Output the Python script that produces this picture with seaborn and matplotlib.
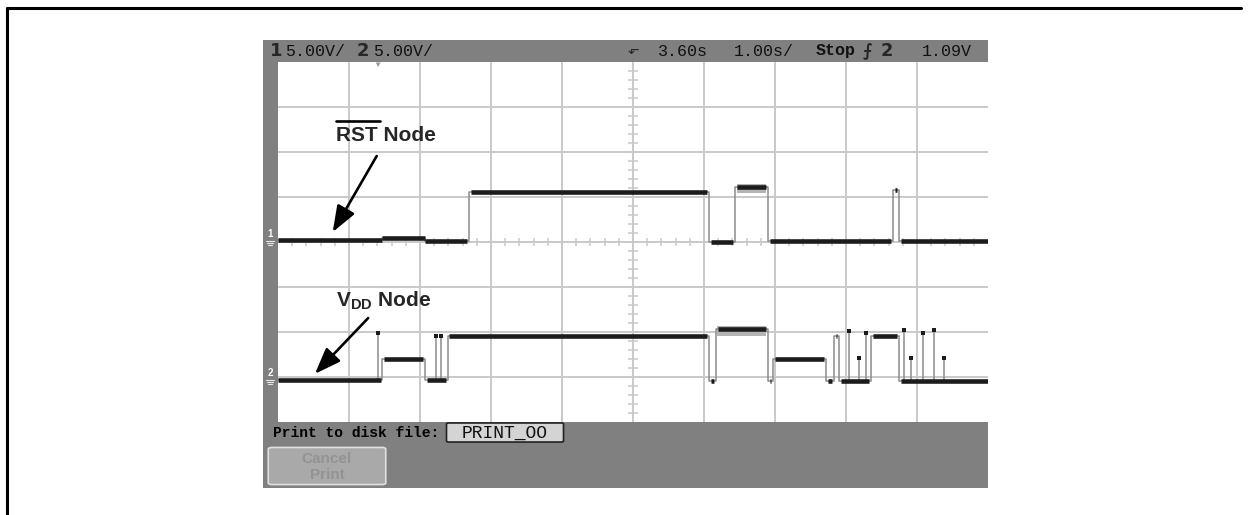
import numpy as np
import matplotlib
matplotlib.use("Agg")
import matplotlib.pyplot as plt
import seaborn as sns
from matplotlib.patches import Rectangle, FancyBboxPatch
from matplotlib.lines import Line2D

sns.set_style("white")
plt.rcParams['font.family'] = ['Liberation Sans', 'DejaVu Sans']
plt.rcParams['mathtext.fontset'] = 'custom'
plt.rcParams['mathtext.bf'] = 'Liberation Sans:bold'
plt.rcParams['mathtext.rm'] = 'Liberation Sans'

# ---- data (time in divisions of 1.00 s, level in screen divisions) ----
rst_edges = [0.0, 1.47, 2.07, 2.69, 6.07, 6.44, 6.90, 8.66, 8.75, 10.0]
rst_levels = [4.04, 4.08, 4.03, 5.11, 4.00, 5.22, 4.03, 5.15, 4.02]

vdd_edges = [0.0, 1.47, 2.07, 2.39, 6.07, 6.17, 6.90, 6.97, 7.72, 7.83, 7.90, 8.35, 8.75, 10.0]
vdd_levels = [0.93, 1.40, 0.93, 1.91, 0.92, 2.06, 0.92, 1.40, 0.92, 1.91, 0.92, 1.91, 0.92]

vdd_spike_t = [1.41, 2.22, 2.30, 8.04, 8.18, 8.28, 8.82, 8.92, 9.08, 9.24, 9.38]
vdd_spike_top = [1.98, 1.91, 1.91, 2.02, 1.42, 1.98, 2.04, 1.42, 1.98, 2.04, 1.42]

noisy_t = [(6.44, 6.90), (6.17, 6.90)]
noisy_level = [5.22, 2.06]

W, H = 1249, 515
def fx(px):
    return px / W
def fy(py):
    return 1 - py / H

fig = plt.figure(figsize=(W / 100, H / 100), dpi=100)
fig.patch.set_facecolor('white')

# outer frame
fig.add_artist(Line2D([fx(7), fx(7)], [fy(8), fy(515)], color='black', lw=2.2))
fig.add_artist(Line2D([fx(7), fx(1241)], [fy(8), fy(8)], color='black', lw=2.2))

# scope screen
fig.add_artist(Rectangle((fx(263), fy(488)), (988 - 263) / W, (488 - 40) / H,
                         transform=fig.transFigure, facecolor='#808080', edgecolor='none', zorder=0))

ax = fig.add_axes([fx(278), fy(422), 710 / W, 360 / H])
ax.set_xlim(0, 10)
ax.set_ylim(0, 8)
ax.set_facecolor('white')
for s in ax.spines.values():
    s.set_visible(False)
ax.set_xticks([])
ax.set_yticks([])

grid_c = '#c9c9c9'
ax.vlines(np.arange(1, 10), 0, 8, color=grid_c, lw=1.4, zorder=1)
ax.hlines(np.arange(1, 8), 0, 10, color=grid_c, lw=1.4, zorder=1)
xs = np.arange(0.2, 10, 0.2)
ax.vlines(xs, 4 - 0.09, 4 + 0.09, color=grid_c, lw=1.1, zorder=1)
ys = np.arange(0.2, 8, 0.2)
ax.hlines(ys, 5 - 0.07, 5 + 0.07, color=grid_c, lw=1.1, zorder=1)

# noisy bands
for (a, b), lv in zip(noisy_t, noisy_level):
    ax.fill_between([a + 0.02, b - 0.02], lv - 0.14, lv + 0.08, color='#b4b4b4', lw=0, zorder=2)

def trace(edges, levels, color_thin='#8c8c8c'):
    e = np.array(edges, dtype=float)
    l = np.array(levels, dtype=float)
    sns.lineplot(x=list(e), y=list(l) + [l[-1]], drawstyle='steps-post', estimator=None,
                 sort=False, color=color_thin, lw=1.1, ax=ax, zorder=3)
    jump = np.abs(np.diff(l)) > 0.2
    g_start = np.concatenate([[0.0], np.where(jump, 0.025, 0.0)])
    g_end = np.concatenate([np.where(jump, 0.025, 0.0), [0.0]])
    ax.hlines(l, e[:-1] + g_start, e[1:] - g_end, color='#1c1c1c', lw=3.3, zorder=4)

trace(rst_edges, rst_levels)
trace(vdd_edges, vdd_levels)
ax.vlines(vdd_spike_t, 0.93, vdd_spike_top, color='#8c8c8c', lw=1.1, zorder=3)
ax.scatter(vdd_spike_t, vdd_spike_top, marker='s', s=10, color='#1c1c1c', zorder=5, linewidths=0)

# annotations
ax.text(0.81, 6.36, 'RST Node', fontsize=15, fontweight='bold', ha='left', va='center', zorder=6)
ax.plot([0.82, 1.43], [6.70, 6.70], color='black', lw=1.9, zorder=6)
ax.annotate('', xy=(0.77, 4.22), xytext=(1.39, 5.91),
            arrowprops=dict(arrowstyle='-|>,head_length=1.6,head_width=0.6', color='black', lw=1.9,
                            shrinkA=0, shrinkB=0), zorder=6)
ax.text(0.82, 2.70, r'$\mathbf{V_{DD}}$ Node', fontsize=15, fontweight='bold', ha='left', va='center', zorder=6)
ax.annotate('', xy=(0.52, 1.07), xytext=(1.27, 2.31),
            arrowprops=dict(arrowstyle='-|>,head_length=1.6,head_width=0.6', color='black', lw=1.9,
                            shrinkA=0, shrinkB=0), zorder=6)

# top status bar
mono = ['Liberation Mono', 'DejaVu Sans Mono']
ty = fy(51)
fig.text(fx(270), ty, '1', fontsize=13, fontweight='bold', family=['DejaVu Sans'], va='center', ha='left')
fig.text(fx(285), ty, '5.00V/', fontsize=12, family=mono, va='center', ha='left', color='#111111')
fig.text(fx(357), ty, '2', fontsize=13, fontweight='bold', family=['DejaVu Sans'], va='center', ha='left')
fig.text(fx(373), ty, '5.00V/', fontsize=12, family=mono, va='center', ha='left', color='#111111')
fig.text(fx(633), fy(50), '\u2b10', fontsize=10, family=['DejaVu Sans'], va='center', ha='center')
fig.text(fx(658), ty, '3.60s', fontsize=12, family=mono, va='center', ha='left', color='#111111')
fig.text(fx(734), ty, '1.00s/', fontsize=12, family=mono, va='center', ha='left', color='#111111')
fig.text(fx(816), ty, 'Stop', fontsize=12, fontweight='bold', family=mono, va='center', ha='left', color='#111111')
fig.text(fx(863), ty, '\u2a0d', fontsize=12, fontweight='bold', family=['DejaVu Sans'], va='center', ha='left')
fig.text(fx(881), ty, '2', fontsize=13, fontweight='bold', family=['DejaVu Sans'], va='center', ha='left')
fig.text(fx(922), ty, '1.09V', fontsize=12, family=mono, va='center', ha='left', color='#111111')
fig.text(fx(377), fy(65), '\u25bc', fontsize=6, color='#9a9a9a', va='center', ha='center')

# channel markers on the left strip
for label, py in (('1', 234), ('2', 373)):
    fig.text(fx(270), fy(py), label, fontsize=7, color='white', va='center', ha='center', fontweight='bold')
    for k, half in enumerate((4, 3, 2)):
        yy = fy(py + 7 + 2 * k)
        fig.add_artist(Line2D([fx(270 - half), fx(270 + half)], [yy, yy], color='#e6e6e6', lw=0.8))

# bottom bar
fig.text(fx(273), fy(433), 'Print to disk file:', fontsize=10.5, fontweight='bold', family=mono,
         va='center', ha='left', color='black')
fig.add_artist(FancyBboxPatch((fx(449), fy(441)), (561 - 449) / W, (441 - 424) / H,
                              boxstyle='round,pad=0.002', transform=fig.transFigure,
                              facecolor='#d4d4d4', edgecolor='#222222', lw=1.2))
fig.text(fx(505), fy(433), 'PRINT_OO', fontsize=13, family=mono, va='center', ha='center', color='#111111')
fig.add_artist(FancyBboxPatch((fx(272), fy(483)), (382 - 272) / W, (483 - 449) / H,
                              boxstyle='round,pad=0.003', transform=fig.transFigure,
                              facecolor='#a9a9a9', edgecolor='#e0e0e0', lw=1.2))
fig.text(fx(327), fy(459), 'Cancel', fontsize=11, fontweight='bold', va='center', ha='center', color='#939393')
fig.text(fx(327), fy(475), 'Print', fontsize=11, fontweight='bold', va='center', ha='center', color='#939393')

fig.savefig('out.png', dpi=100)
